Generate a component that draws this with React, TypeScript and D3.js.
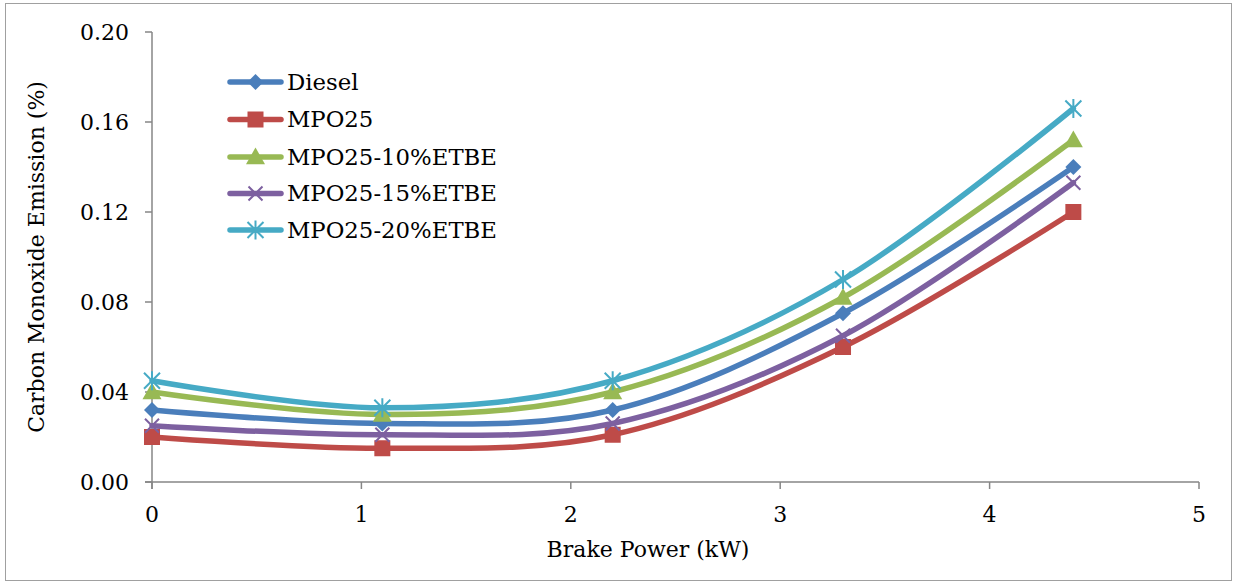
import React from "react";
import * as d3 from "d3";

const brakePower = [0, 1.1, 2.2, 3.3, 4.4];
const seriesNames = ["Diesel", "MPO25", "MPO25-10%ETBE", "MPO25-15%ETBE", "MPO25-20%ETBE"];
const diesel = [0.032, 0.026, 0.032, 0.075, 0.14];
const mpo25 = [0.02, 0.015, 0.021, 0.06, 0.12];
const mpo25e10 = [0.04, 0.03, 0.04, 0.082, 0.152];
const mpo25e15 = [0.025, 0.021, 0.026, 0.065, 0.133];
const mpo25e20 = [0.045, 0.033, 0.045, 0.09, 0.166];
const yTicks = [0, 0.04, 0.08, 0.12, 0.16, 0.2];
const xTicks = [0, 1, 2, 3, 4, 5];

const colors = ["#4A7EBB", "#BE4B48", "#98B954", "#7D60A0", "#46AAC5"];
const markers = ["diamond", "square", "triangle", "x", "star"];

const FONT = "'DejaVu Serif', 'Liberation Serif', serif";

function Marker({ type, x, y, color }: { type: string; x: number; y: number; color: string }) {
  if (type === "diamond") {
    const r = 8;
    return <path d={`M${x},${y - r}L${x + r},${y}L${x},${y + r}L${x - r},${y}Z`} fill={color} />;
  }
  if (type === "square") {
    const r = 8;
    return <rect x={x - r} y={y - r} width={2 * r} height={2 * r} fill={color} />;
  }
  if (type === "triangle") {
    const r = 9.5;
    return <path d={`M${x},${y - r}L${x + r},${y + r * 0.75}L${x - r},${y + r * 0.75}Z`} fill={color} />;
  }
  if (type === "x") {
    const r = 7;
    return (
      <path d={`M${x - r},${y - r}L${x + r},${y + r}M${x - r},${y + r}L${x + r},${y - r}`} stroke={color} strokeWidth={2} fill="none" />
    );
  }
  const r = 8;
  return (
    <path
      d={`M${x - r},${y - r}L${x + r},${y + r}M${x - r},${y + r}L${x + r},${y - r}M${x},${y - r - 1.5}L${x},${y + r + 1.5}`}
      stroke={color}
      strokeWidth={2}
      fill="none"
    />
  );
}

export default function App() {
  const W = 1235;
  const H = 582;
  const x = d3.scaleLinear().domain([0, 5]).range([152, 1199]);
  const y = d3.scaleLinear().domain([0, 0.2]).range([482, 32]);
  const data = [diesel, mpo25, mpo25e10, mpo25e15, mpo25e20];
  const line = d3
    .line<number>()
    .x((_, i) => x(brakePower[i]))
    .y((d) => y(d))
    .curve(d3.curveCardinal.tension(0));
  const axisColor = "#868686";
  const legendY = [82, 119.5, 157, 193.5, 230];
  const textStyle = { fontFamily: FONT, fontSize: "22px" };
  const legendStyle = { fontFamily: FONT, fontSize: "22.8px" };

  return (
    <svg width={W} height={H} style={{ position: "absolute", left: 0, top: 0, background: "#fff" }}>
      <rect x={5.5} y={3.5} width={1226} height={577} fill="#fff" stroke="#A0A0A0" strokeWidth={1} />
      {/* axes */}
      <line x1={x(0)} x2={x(0)} y1={y(0.2)} y2={489} stroke={axisColor} strokeWidth={1.5} />
      <line x1={145} x2={x(5)} y1={y(0)} y2={y(0)} stroke={axisColor} strokeWidth={1.5} />
      {yTicks.map((t) => (
        <g key={"y" + t}>
          <line x1={145} x2={x(0)} y1={y(t)} y2={y(t)} stroke={axisColor} strokeWidth={1.5} />
          <text x={129} y={y(t)} dy="0.35em" textAnchor="end" style={textStyle} fill="#000">
            {t.toFixed(2)}
          </text>
        </g>
      ))}
      {xTicks.map((t) => (
        <g key={"x" + t}>
          <line x1={x(t)} x2={x(t)} y1={y(0)} y2={489} stroke={axisColor} strokeWidth={1.5} />
          <text x={x(t)} y={522} textAnchor="middle" style={textStyle} fill="#000">
            {t}
          </text>
        </g>
      ))}
      <text x={648} y={557} textAnchor="middle" style={textStyle} fill="#000">
        Brake Power (kW)
      </text>
      <text transform={`translate(44,257) rotate(-90)`} textAnchor="middle" style={textStyle} fill="#000">
        Carbon Monoxide Emission (%)
      </text>
      {/* series */}
      {data.map((vals, si) => (
        <g key={"s" + si}>
          <path d={line(vals) || ""} fill="none" stroke={colors[si]} strokeWidth={5.5} strokeLinecap="round" />
          {vals.map((v, i) => (
            <Marker key={i} type={markers[si]} x={x(brakePower[i])} y={y(v)} color={colors[si]} />
          ))}
        </g>
      ))}
      {/* legend */}
      {seriesNames.map((name, si) => (
        <g key={"l" + si}>
          <line x1={230} x2={281} y1={legendY[si]} y2={legendY[si]} stroke={colors[si]} strokeWidth={5.5} strokeLinecap="round" />
          <Marker type={markers[si]} x={255.5} y={legendY[si]} color={colors[si]} />
          <text x={287} y={legendY[si]} dy="0.35em" style={legendStyle} fill="#000">
            {name}
          </text>
        </g>
      ))}
    </svg>
  );
}
